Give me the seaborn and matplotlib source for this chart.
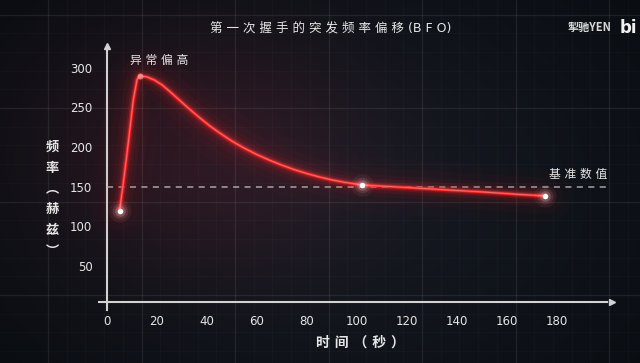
import numpy as np
import matplotlib
matplotlib.use("Agg")
import matplotlib.pyplot as plt
import seaborn as sns

##### Daten #####
time_s = [5, 6.5, 8.5, 10.5, 12, 13, 16, 19, 22, 25, 28, 31, 34, 37, 41, 45, 50, 55, 60,
          65, 70, 75, 80, 85, 90, 95, 102, 110, 120, 135, 150, 165, 175]
freq_hz = [119, 154, 205, 259, 285, 290, 288.5, 284.5, 278.5, 270.5, 262, 253.5, 245.2,
           237.2, 227, 218, 207.5, 198.5, 190.5, 183.5, 177.2, 171.5, 166.6, 162.3,
           158.6, 155.6, 152.3, 150.8, 149, 146.2, 143.5, 140.3, 138.5]

dot_t = [5, 102, 175]
dot_v = [119, 152.3, 138.5]
peak_t = [13]
peak_v = [290]

baseline = 150
baseline_t = [0, 200]

x_ticks = [0, 20, 40, 60, 80, 100, 120, 140, 160, 180]
y_ticks = [50, 100, 150, 200, 250, 300]

title = "第 一 次 握 手 的 突 发 频 率 偏 移 (B F O)"
x_label = "时 间 （ 秒 ）"
y_label = "频\n率\n︵\n赫\n兹\n︶"
peak_text = "异 常 偏 高"
base_text = "基 准 数 值"

##### Stil #####
sns.set_theme(style="dark")
plt.rcParams["font.family"] = ["DejaVu Sans", "Noto Sans CJK SC"]
txt = "#e6e6e6"
axc = "#d2d2d2"
red = "#ff2b2b"

W, H = 640, 363
fig = plt.figure(figsize=(6.4, 3.63), dpi=100)

# Hintergrund (Pixelkoordinaten)
bg = fig.add_axes([0, 0, 1, 1])
yy, xx = np.mgrid[0:H, 0:W]
r = np.sqrt(((xx - 330) / 420) ** 2 + ((yy - 190) / 300) ** 2)
fall = np.clip(1 - r, 0, 1)
c0 = np.array([10, 13, 18]) / 255
c1 = np.array([22, 27, 36]) / 255
img = c0 + (c1 - c0) * fall[..., None]
glow = np.exp(-(((xx - 200) / 160) ** 2 + ((yy - 150) / 120) ** 2))
img[..., 0] += 0.11 * glow
img[..., 1] += 0.01 * glow
img[..., 2] += 0.02 * glow
bg.imshow(np.clip(img, 0, 1), extent=(0, W, H, 0), aspect="auto")
for gx in np.arange(48, W, 93.5):
    bg.axvline(gx, color="white", alpha=0.06, lw=1)
for gy in np.arange(14.5, H, 93.5):
    bg.axhline(gy, color="white", alpha=0.06, lw=1)
for gx in np.arange(48, W, 18.7):
    bg.axvline(gx, color="white", alpha=0.018, lw=0.8)
for gy in np.arange(14.5, H, 18.7):
    bg.axhline(gy, color="white", alpha=0.018, lw=0.8)
bg.set_xlim(0, W)
bg.set_ylim(H, 0)
bg.axis("off")

# Hauptachse, so skaliert dass 0 s bei x=107 px und 0 Hz bei y=305.7 px liegt
ax = fig.add_axes([0, 0, 1, 1])
ax.patch.set_alpha(0)
ax.set_xlim(-107 / 2.5, (W - 107) / 2.5)
ax.set_ylim((305.7 - H) / 0.793, 305.7 / 0.793)
ax.grid(False)

for s in ["top", "right"]:
    ax.spines[s].set_visible(False)
ax.spines["left"].set_position(("data", 0))
ax.spines["bottom"].set_position(("data", 5))
ax.spines["left"].set_bounds(-5.5, 325)
ax.spines["bottom"].set_bounds(-3.4, 200)
for s in ["left", "bottom"]:
    ax.spines[s].set_color(axc)
    ax.spines[s].set_linewidth(1.5)
ax.plot([0], [327], marker="^", ms=4, color=axc, clip_on=False)
ax.plot([202], [5], marker=">", ms=4, color=axc, clip_on=False)

ax.set_xticks(x_ticks)
ax.set_yticks(y_ticks)
ax.tick_params(axis="x", direction="out", length=5, width=1.4, color=axc,
               labelcolor=txt, labelsize=8.5, pad=4.5)
ax.tick_params(axis="y", direction="out", length=7, width=1.4, color=axc,
               labelcolor=txt, labelsize=8.5, pad=3.5)
for lab in ax.get_xticklabels() + ax.get_yticklabels():
    lab.set_fontfamily(["DejaVu Sans"])

# Basislinie
ax.plot(baseline_t, [baseline, baseline], color="#bdbdbd", lw=1.1,
        ls=(0, (4, 3.5)), alpha=0.85, zorder=3)

# Leuchtende Kurve
for lw, a in [(40, 0.018), (26, 0.03), (16, 0.05), (10, 0.08), (6, 0.15), (3.5, 0.3)]:
    sns.lineplot(x=time_s, y=freq_hz, ax=ax, color=red, lw=lw, alpha=a,
                 estimator=None, sort=False, zorder=4)
sns.lineplot(x=time_s, y=freq_hz, ax=ax, color=red, lw=1.8, estimator=None,
             sort=False, zorder=5)
sns.lineplot(x=time_s, y=freq_hz, ax=ax, color="#ff7070", lw=0.6, estimator=None,
             sort=False, zorder=6)

# Punkte
for s, a in [(260, 0.05), (130, 0.1), (60, 0.2)]:
    ax.scatter(dot_t, dot_v, s=s, color="#ffd6d6", alpha=a, lw=0, zorder=7)
ax.scatter(dot_t, dot_v, s=16, color="white", lw=0, zorder=8)
ax.scatter(peak_t, peak_v, s=18, color="#ff9c9c", alpha=0.75, lw=0, zorder=8)

# Beschriftungen
ax.annotate(peak_text, xy=(peak_t[0], peak_v[0]), xytext=(14, 11),
            textcoords="offset points", ha="center", va="center",
            color=txt, fontsize=8.5, fontweight="medium")
ax.annotate(base_text, xy=(baseline_t[1], baseline), xytext=(0, 4.5),
            textcoords="offset points", ha="right", va="bottom",
            color=txt, fontsize=8.5, fontweight="medium")

fig.text(331 / W, 1 - 28 / H, title, ha="center", va="center", color=txt,
         fontsize=9, fontweight="medium")
fig.text(360 / W, 1 - 343 / H, x_label, ha="center", va="center", color=txt,
         fontsize=10, fontweight="bold")
fig.text(52 / W, 1 - 199 / H, y_label, ha="center", va="center", color=txt,
         fontsize=9.5, fontweight="bold", linespacing=1.62,
         family=["Noto Sans CJK SC"])
fig.text(589 / W, 1 - 28 / H, "掣驰YEN", ha="center", va="center", color="#d8d8d8",
         fontsize=8, fontweight="bold", family=["Noto Sans CJK SC"])
fig.text(620 / W, 1 - 28 / H, "bi", ha="left", va="center", color="#f0f0f0",
         fontsize=12, fontweight="heavy")

fig.savefig("out.png", dpi=100)
